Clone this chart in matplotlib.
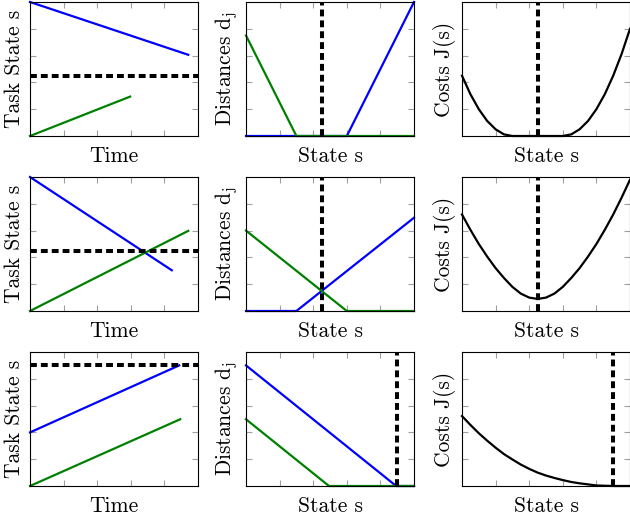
import numpy as np
import matplotlib.pyplot as plt

plt.rcParams['font.family'] = 'cmr10'
plt.rcParams['mathtext.fontset'] = 'cm'
plt.rcParams['axes.formatter.use_mathtext'] = True

blue = '#0000ff'
green = '#008000'

# row 1: task states over time
t_blue_1 = [0, 4.71]
s_blue_1 = [5.0, 3.03]
t_green_1 = [0, 2.98]
s_green_1 = [0, 1.47]
goal_1 = 2.25

# row 2
t_blue_2 = [0, 4.22]
s_blue_2 = [5.0, 1.52]
t_green_2 = [0, 4.71]
s_green_2 = [0, 2.99]
goal_2 = 2.25

# row 3
t_blue_3 = [0, 4.44]
s_blue_3 = [2.0, 4.5]
t_green_3 = [0, 4.47]
s_green_3 = [0, 2.49]
goal_3 = 4.5

# distances d_j over state s
x_db_1 = [0, 3.0, 5.0]
db_1 = [0, 0, 5.0]
x_dg_1 = [0, 1.5, 5.0]
dg_1 = [3.75, 0, 0]
opt_1 = 2.26

x_db_2 = [0, 1.5, 5.0]
db_2 = [0, 0, 3.48]
x_dg_2 = [0, 3.0, 5.0]
dg_2 = [3.0, 0, 0]
opt_2 = 2.26

x_db_3 = [0, 4.47, 5.0]
db_3 = [4.5, 0, 0]
x_dg_3 = [0, 2.47, 5.0]
dg_3 = [2.49, 0, 0]
opt_3 = 4.5

# costs J(s)
s_cost = [0, 0.25, 0.5, 0.75, 1.0, 1.25, 1.5, 1.75, 2.0, 2.25, 2.5,
          2.75, 3.0, 3.25, 3.5, 3.75, 4.0, 4.25, 4.5, 4.75, 5.0]
cost_1 = [2.25, 1.56, 1.0, 0.56, 0.25, 0.06, 0, 0, 0, 0, 0,
          0, 0, 0.06, 0.25, 0.56, 1.0, 1.56, 2.25, 3.06, 4.0]
cost_2 = [3.6, 3.03, 2.5, 2.03, 1.6, 1.23, 0.9, 0.65, 0.5, 0.45, 0.5,
          0.65, 0.9, 1.23, 1.6, 2.03, 2.5, 3.03, 3.6, 4.23, 4.9]
cost_3 = [2.61, 2.28, 1.97, 1.69, 1.43, 1.19, 0.99, 0.8, 0.64, 0.5, 0.39,
          0.3, 0.22, 0.15, 0.1, 0.06, 0.02, 0.01, 0, 0, 0]

W, H = 630, 517
fig = plt.figure(figsize=(W/100, H/100), dpi=100)

lefts = [30, 246, 462]
tops = [2, 177, 352]
aw, ah = 168, 134

lw = 1.6
fs = 15.5
dash_kw = dict(color='black', lw=2.9, dashes=(1.7, 1.0), clip_on=False, zorder=5)


def make_ax(row, col):
    ax = fig.add_axes([lefts[col]/W, (H - tops[row] - ah)/H, aw/W, ah/H])
    ax.set_xlim(0, 5)
    ax.set_ylim(0, 5)
    ax.set_xticks([1, 2, 3, 4])
    ax.set_yticks([1, 2, 3, 4])
    ax.set_xticklabels([])
    ax.set_yticklabels([])
    ax.tick_params(direction='in', length=4, width=0.8, color='#a0a0a0',
                   top=True, right=True)
    for sp in ax.spines.values():
        sp.set_linewidth(0.8)
    return ax


tasks = [(t_blue_1, s_blue_1, t_green_1, s_green_1, goal_1),
         (t_blue_2, s_blue_2, t_green_2, s_green_2, goal_2),
         (t_blue_3, s_blue_3, t_green_3, s_green_3, goal_3)]
dists = [(x_db_1, db_1, x_dg_1, dg_1, opt_1),
         (x_db_2, db_2, x_dg_2, dg_2, opt_2),
         (x_db_3, db_3, x_dg_3, dg_3, opt_3)]
costs = [(cost_1, opt_1), (cost_2, opt_2), (cost_3, opt_3)]

for r in range(3):
    ax = make_ax(r, 0)
    tb, sb, tg, sg, goal = tasks[r]
    ax.plot(tb, sb, color=blue, lw=lw, clip_on=False)
    ax.plot(tg, sg, color=green, lw=lw, clip_on=False)
    ax.axhline(goal, **dash_kw)
    ax.set_xlabel("Time", fontsize=fs, labelpad=4)
    ax.set_ylabel("Task State s", fontsize=fs, labelpad=1)

    ax = make_ax(r, 1)
    xb, db, xg, dg, opt = dists[r]
    ax.plot(xb, db, color=blue, lw=lw, clip_on=False)
    ax.plot(xg, dg, color=green, lw=lw, clip_on=False)
    ax.axvline(opt, **dash_kw)
    ax.set_xlabel("State s", fontsize=fs, labelpad=4)
    ax.set_ylabel(r"Distances $\mathrm{d_j}$", fontsize=fs, labelpad=1)

    ax = make_ax(r, 2)
    c, opt = costs[r]
    ax.plot(s_cost, c, color='black', lw=lw, clip_on=False)
    ax.axvline(opt, **dash_kw)
    ax.set_xlabel("State s", fontsize=fs, labelpad=4)
    ax.set_ylabel("Costs J(s)", fontsize=fs, labelpad=1)

fig.savefig("out.png", dpi=100)
